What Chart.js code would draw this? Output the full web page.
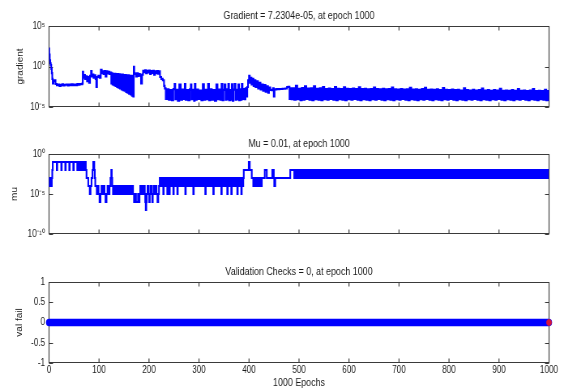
<!DOCTYPE html>
<html><head><meta charset="utf-8">
<script src="https://cdn.jsdelivr.net/npm/chart.js@4.4.1/dist/chart.umd.min.js"></script>
<style>
html,body{margin:0;padding:0;background:#fff;width:564px;height:390px;overflow:hidden;position:relative;}
.p{position:absolute;left:0;width:696px;transform-origin:0 0;transform:scaleX(0.8103448);}
canvas{display:block;}
</style></head><body>
<div class="p" style="top:0px"><canvas id="c1" width="696" height="119"></canvas></div>
<div class="p" style="top:128px"><canvas id="c2" width="696" height="118"></canvas></div>
<div class="p" style="top:256px"><canvas id="c3" width="696" height="134"></canvas></div>
<script>
// ---------- data ----------
const epochTicks = [0,100,200,300,400,500,600,700,800,900,1000];
const gradTicks = [1e-5, 1, 1e5];
const gradTickLabels = ['10\u207B\u2075','10\u2070','10\u2075'];
const muTicks = [1e-10, 1e-5, 1];
const muTickLabels = ['10\u207B\u00B9\u2070','10\u207B\u2075','10\u2070'];
const valTicks = [-1,-0.5,0,0.5,1];
const valTickLabels = ['-1','-0.5','0','0.5','1'];

// [epoch, gradient]
const gradient = [
[0,1.6e2],[1,3e1],[2,6],[3,2.5],[4,1.5],[5,5e-1],[6,1.5e-1],[7,3e-2],[8,8e-3],[10,1.6e-2],[12,2e-2],[14,7e-3],[17,5e-3],
[20,6e-3],[22,4e-3],[25,5e-3],[27,6.5e-3],[30,4.5e-3],[33,5.5e-3],[36,6e-3],[38,4.5e-3],[41,6e-3],[44,5e-3],[46,6.5e-3],[49,5e-3],[52,6e-3],[55,5e-3],[58,7e-3],[60,5.5e-3],[63,7e-3],[66,6.5e-3],[67,8e-3],
[68,2.2e-1],[69,4e-2],[71,9e-2],[73,3e-2],[75,6e-2],[77,1.5e-2],[79,5e-2],[81,1e-2],[83,7e-2],[85,2.8e-1],[86,6e-2],[88,1e-1],[90,4e-2],[92,8e-2],[94,3e-2],[95,3e-3],[97,5e-2],[100,7e-2],[102,4e-2],[105,4e-1],[106,1.5e-1],[108,2.5e-1],[110,1.2e-1],[112,2.8e-1],[114,6e-2],[116,2.5e-1],[118,1.4e-1],[120,2.2e-1],[122,1.2e-1],[124,1.8e-1],
[125,8e-3],[126,1.4e-1],[128,6e-3],[129,1.3e-1],[131,5e-3],[132,1.3e-1],[134,4e-3],[135,1.2e-1],[137,3e-3],[138,1.2e-1],[140,2.5e-3],[141,1.1e-1],[143,2e-3],[144,1e-1],[146,1.5e-3],[147,1e-1],[149,1.2e-3],[150,9e-2],[152,1e-3],[153,9e-2],[155,7e-4],[156,8e-2],[158,6e-4],[159,8e-2],[161,4.5e-4],[162,7e-2],[164,3.5e-4],[165,7e-2],[167,2.5e-4],[168,6e-2],[169,2e-4],
[170,9e-1],[171,1.5e-1],[173,1.2e-1],[175,6e-2],[177,1.4e-1],[179,7e-2],[181,1.2e-1],[183,8e-2],[185,8e-3],[187,1e-1],[189,3e-1],[191,2e-1],[193,3.5e-1],[195,1.5e-1],[197,3e-1],[199,1.8e-1],[201,3.2e-1],[203,1.2e-1],[205,2.8e-1],[207,1.6e-1],[209,3e-1],[211,1e-1],[213,2.6e-1],[215,1.5e-1],[217,2.8e-1],[219,1.3e-1],[221,2.5e-1],[223,5e-2],[226,3e-2],[229,2e-2],[231,4e-3],
[232,2e-3],[235,1e-4],[238,1.5e-3],[241,8e-5],[244,1.2e-3],[247,7e-5],[250,1.6e-3],[252,7e-3],[253,9e-5],[256,1.3e-3],[259,6e-5],[262,6e-3],[265,8e-5],[268,1.4e-3],[271,1e-4],[272,7e-3],[274,8e-5],[277,1.2e-3],[280,7e-5],[283,1.5e-3],[284,6e-3],[286,9e-5],[289,1.3e-3],[291,6e-5],[292,7e-3],[294,8e-5],[297,1.4e-3],[300,1e-4],[303,1.1e-3],[306,7e-5],[309,6.5e-3],[311,8e-5],[314,1.3e-3],[317,9e-5],[319,7e-3],[321,7e-5],[324,1.5e-3],[327,8e-5],[330,1.2e-3],[333,6e-5],[336,6e-3],[338,9e-5],[341,1.4e-3],[344,8e-5],[346,7e-3],[348,7e-5],[350,1.3e-3],[352,6e-3],[354,8e-5],[356,1.5e-3],[358,9e-5],[359,7e-3],[361,7e-5],[363,1.2e-3],[365,8e-5],[366,6.5e-3],[368,6e-5],[370,1.4e-3],[372,7e-3],[374,8e-5],[376,1.3e-3],[378,9e-5],[379,6e-3],[381,7e-5],[383,1.5e-3],[385,8e-5],[386,7e-3],[388,1e-4],[390,1.6e-3],[392,9e-5],[394,2e-3],[396,2e-4],
[397,3e-3],[399,2e-2],[401,7e-2],[402,1e-2],[404,4e-2],[406,6e-3],[408,3e-2],[410,4e-3],[412,2e-2],[414,3e-3],[417,1.5e-2],[419,2e-3],[422,1e-2],[424,1.5e-3],[427,6e-3],[429,1e-3],[432,5e-3],[434,8e-4],[437,3.5e-3],[439,6e-4],[441,2.5e-3],[444,1.3e-3],[447,1.2e-3],[449,2e-3],[450,2e-4],[452,1.5e-3],[458,1.6e-3],[464,1.7e-3],[470,1.8e-3],[475,1.9e-3],[477,3e-3],[480,3.2e-3],[482,1e-4],[484,2e-3],[486,9e-5],
[489,2e-3],[492,8e-5],[495,4e-3],[498,9e-5],[501,1.8e-3],[504,7e-5],[507,2.2e-3],[510,8e-5],[513,3.5e-3],[516,1e-4],[519,1.9e-3],[522,8e-5],[525,2e-3],[528,7e-5],[531,3.5e-3],[534,9e-5],[537,1.8e-3],[540,8e-5],[543,2e-3],[546,7e-5],[549,3e-3],[552,9e-5],[555,1.7e-3],[558,8e-5],[561,1.9e-3],[564,1e-4],[567,1.6e-3],[570,8e-5],[573,3e-3],[576,7e-5],[579,1.8e-3],[582,9e-5],[585,1.7e-3],[588,8e-5],[591,2.8e-3],[594,7e-5],[597,1.8e-3],[600,9e-5],
[603,1.6e-3],[606,8e-5],[609,1.9e-3],[612,1e-4],[615,1.7e-3],[618,8e-5],[621,2.8e-3],[624,7e-5],[627,1.6e-3],[630,9e-5],[633,1.8e-3],[636,8e-5],[639,1.5e-3],[642,7e-5],[645,1.7e-3],[648,9e-5],[651,2.6e-3],[654,8e-5],[657,1.6e-3],[660,1e-4],[663,1.5e-3],[666,8e-5],[669,1.8e-3],[672,7e-5],[675,1.5e-3],[678,9e-5],[681,1.6e-3],[684,8e-5],[687,2.5e-3],[690,7e-5],[693,1.5e-3],[696,9e-5],[699,1.4e-3],
[702,8e-5],[705,1.7e-3],[708,1e-4],[711,1.4e-3],[714,8e-5],[717,1.5e-3],[720,7e-5],[723,2.4e-3],[726,9e-5],[729,1.4e-3],[732,8e-5],[735,1.5e-3],[738,7e-5],[741,1.3e-3],[744,9e-5],[747,1.6e-3],[750,8e-5],[753,2.3e-3],[756,1e-4],[759,1.3e-3],[762,8e-5],[765,1.4e-3],[768,7e-5],[771,1.3e-3],[774,9e-5],[777,1.5e-3],[780,8e-5],[783,1.2e-3],[786,7e-5],[789,2.2e-3],[792,9e-5],[795,1.3e-3],[798,8e-5],
[801,1.2e-3],[804,1e-4],[807,1.4e-3],[810,8e-5],[813,1.2e-3],[816,7e-5],[819,1.3e-3],[822,9e-5],[825,1.1e-3],[828,8e-5],[831,2e-3],[834,7e-5],[837,1.2e-3],[840,9e-5],[843,1.1e-3],[846,8e-5],[849,1.3e-3],[852,1e-4],[855,1.1e-3],[858,8e-5],[861,1.2e-3],[864,7e-5],[867,1.9e-3],[870,9e-5],[873,1.1e-3],[876,8e-5],[879,1.2e-3],[882,7e-5],[885,1e-3],[888,9e-5],[891,1.2e-3],[894,8e-5],[897,1.1e-3],[900,1e-4],
[903,1.8e-3],[906,8e-5],[909,1e-3],[912,7e-5],[915,1.1e-3],[918,9e-5],[921,1e-3],[924,8e-5],[927,1.2e-3],[930,7e-5],[933,1e-3],[936,9e-5],[939,1.7e-3],[942,8e-5],[945,1e-3],[948,1e-4],[951,1.1e-3],[954,8e-5],[957,9e-4],[960,7e-5],[963,1.1e-3],[966,9e-5],[969,1.6e-3],[972,8e-5],[975,9e-4],[978,7e-5],[981,1e-3],[984,9e-5],[987,9e-4],[990,8e-5],[993,1.3e-3],[996,7e-5],[998,9e-4],[1000,7.2304e-5]
];

// [epoch, mu]
const mu = [
[0,1e-3],[1,1e-4],[2,1e-3],[3,1e-4],[4,1e-3],[5,1e-4],[6,1e-3],[7,1e-2],[8,1e-1],
[15,1e-1],[16,1e-2],[17,1e-1],[24,1e-1],[25,1e-2],[26,1e-1],[32,1e-1],[33,1e-2],[34,1e-1],[40,1e-1],[41,1e-2],[42,1e-1],[48,1e-1],[49,1e-2],[50,1e-1],[56,1e-1],[57,1e-2],
[58,1e-1],[59,1e-2],[60,1e-1],[61,1e-2],[62,1e-1],[63,1e-2],[64,1e-1],[65,1e-2],[66,1e-1],[67,1e-2],[68,1e-1],[69,1e-2],[70,1e-1],[71,1e-2],[72,1e-1],[73,1e-1],
[74,1e-2],[76,1e-3],[78,1e-3],[79,1e-4],[81,1e-4],[82,1e-5],[84,1e-4],[86,1e-3],[88,1e-2],[89,1e-1],[90,1e-1],[91,1e-2],[92,1e-3],[93,1e-4],[95,1e-4],[96,1e-5],
[98,1e-4],[100,1e-5],[102,1e-6],[104,1e-5],[106,1e-4],[108,1e-5],[110,1e-4],[112,1e-5],[114,1e-6],[116,1e-5],[118,1e-4],[120,1e-5],[122,1e-4],[124,1e-3],[125,1e-2],[126,1e-3],[127,1e-4],[129,1e-5],[131,1e-4],[133,1e-5],[135,1e-4],[137,1e-5],[139,1e-4],[141,1e-5],[143,1e-4],[145,1e-5],[147,1e-4],[149,1e-5],[151,1e-4],[153,1e-5],[155,1e-4],[157,1e-5],[159,1e-4],[161,1e-5],[163,1e-4],[165,1e-5],[167,1e-4],[169,1e-5],
[171,1e-6],[173,1e-5],[175,1e-6],[177,1e-6],[179,1e-5],[180,1e-6],[182,1e-5],[183,1e-4],
[185,1e-5],[187,1e-4],[189,1e-5],[191,1e-4],[192,1e-5],[193,1e-6],[194,1e-7],[195,1e-6],[196,1e-5],[198,1e-4],[200,1e-5],[201,1e-6],[202,1e-5],[204,1e-4],[206,1e-5],[207,1e-6],[208,1e-5],[210,1e-4],[212,1e-5],[214,1e-4],[216,1e-5],[218,1e-6],[219,1e-5],[221,1e-4],
[222,1e-3],[224,1e-4],[226,1e-3],[228,1e-4],[229,1e-5],[230,1e-3],[232,1e-4],[234,1e-3],[236,1e-4],[237,1e-5],[238,1e-3],[240,1e-4],[241,1e-5],[242,1e-3],[244,1e-4],[246,1e-3],[248,1e-4],[249,1e-5],[250,1e-3],[252,1e-4],[254,1e-3],[256,1e-4],[257,1e-5],[258,1e-3],[260,1e-4],[262,1e-3],[264,1e-4],[266,1e-3],[268,1e-4],[270,1e-3],[272,1e-4],[273,1e-5],[274,1e-3],[276,1e-4],[278,1e-3],[280,1e-4],[282,1e-3],[284,1e-4],[286,1e-3],[288,1e-4],[289,1e-5],[290,1e-3],[292,1e-4],[294,1e-3],[296,1e-4],[298,1e-3],[300,1e-4],
[302,1e-3],[304,1e-4],[306,1e-3],[308,1e-4],[310,1e-3],[312,1e-4],[313,1e-5],[314,1e-3],[316,1e-4],[318,1e-3],[320,1e-4],[322,1e-3],[324,1e-4],[326,1e-3],[328,1e-4],[329,1e-5],[330,1e-3],[332,1e-4],[334,1e-3],[336,1e-4],[338,1e-3],[340,1e-4],[342,1e-3],[344,1e-4],[345,1e-5],[346,1e-3],[348,1e-4],[350,1e-3],[352,1e-4],[354,1e-3],[356,1e-4],[357,1e-5],[358,1e-3],[360,1e-4],[362,1e-3],[364,1e-4],[365,1e-5],[366,1e-3],[368,1e-4],[370,1e-3],[372,1e-4],[374,1e-3],[376,1e-4],[377,1e-5],[378,1e-3],[380,1e-4],[382,1e-3],[384,1e-4],[385,1e-5],[386,1e-3],[388,1e-4],[389,1e-3],
[390,1e-2],[399,1e-2],[400,1e-1],[401,1e-1],[402,1e-2],[405,1e-2],[406,1e-3],[408,1e-3],[409,1e-4],[410,1e-3],[412,1e-3],[413,1e-4],[414,1e-3],[416,1e-3],[417,1e-4],[418,1e-3],[420,1e-3],[421,1e-4],[422,1e-3],[424,1e-3],[425,1e-4],[426,1e-3],[431,1e-3],[432,1e-2],[435,1e-2],[436,1e-3],[446,1e-3],[447,1e-2],[449,1e-2],[450,1e-3],[451,1e-4],[452,1e-4],[453,1e-3],[482,1e-3],[483,1e-2],[489,1e-2],
[492,1e-3],[495,1e-2],[498,1e-3],[501,1e-2],[504,1e-3],[507,1e-2],[510,1e-3],[513,1e-2],[516,1e-3],[519,1e-2],[522,1e-3],[525,1e-2],[528,1e-3],[531,1e-2],[534,1e-3],[537,1e-2],[540,1e-3],[543,1e-2],[546,1e-3],[549,1e-2],[552,1e-3],[555,1e-2],[558,1e-3],[561,1e-2],[564,1e-3],[567,1e-2],[570,1e-3],[573,1e-2],[576,1e-3],[579,1e-2],[582,1e-3],[585,1e-2],[588,1e-3],[591,1e-2],[594,1e-3],[597,1e-2],[600,1e-3],
[603,1e-2],[606,1e-3],[609,1e-2],[612,1e-3],[615,1e-2],[618,1e-3],[621,1e-2],[624,1e-3],[627,1e-2],[630,1e-3],[633,1e-2],[636,1e-3],[639,1e-2],[642,1e-3],[645,1e-2],[648,1e-3],[651,1e-2],[654,1e-3],[657,1e-2],[660,1e-3],[663,1e-2],[666,1e-3],[669,1e-2],[672,1e-3],[675,1e-2],[678,1e-3],[681,1e-2],[684,1e-3],[687,1e-2],[690,1e-3],[693,1e-2],[696,1e-3],[699,1e-2],
[702,1e-3],[705,1e-2],[708,1e-3],[711,1e-2],[714,1e-3],[717,1e-2],[720,1e-3],[723,1e-2],[726,1e-3],[729,1e-2],[732,1e-3],[735,1e-2],[738,1e-3],[741,1e-2],[744,1e-3],[747,1e-2],[750,1e-3],[753,1e-2],[756,1e-3],[759,1e-2],[762,1e-3],[765,1e-2],[768,1e-3],[771,1e-2],[774,1e-3],[777,1e-2],[780,1e-3],[783,1e-2],[786,1e-3],[789,1e-2],[792,1e-3],[795,1e-2],[798,1e-3],
[801,1e-2],[804,1e-3],[807,1e-2],[810,1e-3],[813,1e-2],[816,1e-3],[819,1e-2],[822,1e-3],[825,1e-2],[828,1e-3],[831,1e-2],[834,1e-3],[837,1e-2],[840,1e-3],[843,1e-2],[846,1e-3],[849,1e-2],[852,1e-3],[855,1e-2],[858,1e-3],[861,1e-2],[864,1e-3],[867,1e-2],[870,1e-3],[873,1e-2],[876,1e-3],[879,1e-2],[882,1e-3],[885,1e-2],[888,1e-3],[891,1e-2],[894,1e-3],[897,1e-2],[900,1e-3],
[903,1e-2],[906,1e-3],[909,1e-2],[912,1e-3],[915,1e-2],[918,1e-3],[921,1e-2],[924,1e-3],[927,1e-2],[930,1e-3],[933,1e-2],[936,1e-3],[939,1e-2],[942,1e-3],[945,1e-2],[948,1e-3],[951,1e-2],[954,1e-3],[957,1e-2],[960,1e-3],[963,1e-2],[966,1e-3],[969,1e-2],[972,1e-3],[975,1e-2],[978,1e-3],[981,1e-2],[984,1e-3],[987,1e-2],[990,1e-3],[993,1e-2],[996,1e-3],[999,1e-2],[1000,1e-2]
];

// validation failures (0 at every epoch) and the best epoch marker
const valEpochs = [0, 1000];
const valFail = [0, 0];
const bestEpoch = [1000];
const bestVal = [0];

// ---------- styling ----------
const SX = 564 / 696;          // horizontal compression applied by CSS (narrow MATLAB font look)
const FONT = '"Liberation Sans", Arial, sans-serif';
const TEXT = '#1a1a1a';
const AXIS = '#3a3a3a';
const BLUE = '#0000ff';
const RED = '#d4143c';
const TICKV = 4;               // length of x ticks (vertical marks)
const TICKH = 4 / SX;          // length of y ticks (horizontal marks)

const toPts = arr => arr.map(([x, y]) => ({x, y}));

const boxPlugin = {
  id: 'matlabBox',
  beforeDatasetsDraw(chart) {
    const {ctx, chartArea: a, scales: {x, y}} = chart;
    const L = a.left, R = a.right;
    const T = Math.round(a.top) + 0.5, B = Math.round(a.bottom) - 0.5;
    ctx.save();
    ctx.strokeStyle = AXIS;
    ctx.lineWidth = 1.15;
    ctx.beginPath();
    ctx.rect(L, T, R - L, B - T);
    x.ticks.forEach(t => {
      const px = x.getPixelForValue(t.value);
      ctx.moveTo(px, T); ctx.lineTo(px, T + TICKV);
      ctx.moveTo(px, B); ctx.lineTo(px, B - TICKV);
    });
    y.ticks.forEach(t => {
      const py = Math.round(y.getPixelForValue(t.value)) + 0.5;
      ctx.moveTo(L, py); ctx.lineTo(L + TICKH, py);
      ctx.moveTo(R, py); ctx.lineTo(R - TICKH, py);
    });
    ctx.stroke();
    ctx.restore();
  }
};

function makeChart(id, o) {
  return new Chart(document.getElementById(id), {
    type: 'line',
    data: { datasets: o.datasets },
    options: {
      responsive: false, animation: false, events: [],
      layout: { padding: { left: 0, right: 15 / SX, top: 0, bottom: 0 } },
      plugins: {
        legend: { display: false }, tooltip: { enabled: false },
        title: { display: true, fullSize: false, text: o.title, color: TEXT,
                 font: { family: FONT, size: 11, weight: 'normal' },
                 padding: { top: 9, bottom: 3.8 } }
      },
      scales: {
        x: {
          type: 'linear', min: 0, max: 1000,
          afterBuildTicks: s => { s.ticks = epochTicks.map(v => ({ value: v })); },
          ticks: { display: o.showX, color: TEXT, font: { family: FONT, size: 10 },
                   padding: 1, maxRotation: 0, autoSkip: false, callback: v => String(v) },
          grid: { display: false, drawTicks: false }, border: { display: false },
          title: { display: o.showX, text: '1000 Epochs', color: TEXT,
                   font: { family: FONT, size: 11 }, padding: { top: 0, bottom: 0.7 } },
          afterFit: s => { s.height = o.xHeight; }
        },
        y: {
          type: o.yType, min: o.yMin, max: o.yMax,
          afterBuildTicks: s => { s.ticks = o.yTicks.map(v => ({ value: v })); },
          ticks: { color: TEXT, font: { family: FONT, size: 10 }, padding: 4 / SX,
                   callback: v => { const i = o.yTicks.indexOf(v); return i < 0 ? '' : o.yLabels[i]; } },
          grid: { display: false, drawTicks: false }, border: { display: false },
          title: { display: true, text: o.yLabel, color: TEXT,
                   font: { family: FONT, size: 10 }, padding: { top: o.yTitlePad, bottom: 0 } },
          afterFit: s => { s.width = 49 / SX; }
        }
      }
    },
    plugins: [boxPlugin]
  });
}

// per-epoch records: draw each value as a held level (dense oscillation reads as a solid band)
const lineStyle = { borderColor: BLUE, borderWidth: 2.1, pointRadius: 0, stepped: 'middle', fill: false };

makeChart('c1', {
  title: 'Gradient = 7.2304e-05, at epoch 1000', yLabel: 'gradient',
  yType: 'logarithmic', yMin: 1e-5, yMax: 1e5, yTicks: gradTicks, yLabels: gradTickLabels,
  yTitlePad: 20.5 / SX - 6, showX: false, xHeight: 12,
  datasets: [Object.assign({ data: toPts(gradient) }, lineStyle)]
});

makeChart('c2', {
  title: 'Mu = 0.01, at epoch 1000', yLabel: 'mu',
  yType: 'logarithmic', yMin: 1e-10, yMax: 1, yTicks: muTicks, yLabels: muTickLabels,
  yTitlePad: 14.5 / SX - 6, showX: false, xHeight: 12,
  datasets: [Object.assign({ data: toPts(mu) }, lineStyle)]
});

makeChart('c3', {
  title: 'Validation Checks = 0, at epoch 1000', yLabel: 'val fail',
  yType: 'linear', yMin: -1, yMax: 1, yTicks: valTicks, yLabels: valTickLabels,
  yTitlePad: 19.5 / SX - 6, showX: true, xHeight: 27,
  datasets: [
    { data: bestEpoch.map((x, i) => ({ x, y: bestVal[i] })), showLine: false,
      pointRadius: 3, pointBackgroundColor: RED, pointBorderColor: RED, pointBorderWidth: 1, clip: false },
    { data: valEpochs.map((x, i) => ({ x, y: valFail[i] })), borderColor: BLUE, borderWidth: 7.5,
      borderCapStyle: 'round', pointRadius: 0, tension: 0, fill: false, clip: false }
  ]
});
</script>
</body></html>
